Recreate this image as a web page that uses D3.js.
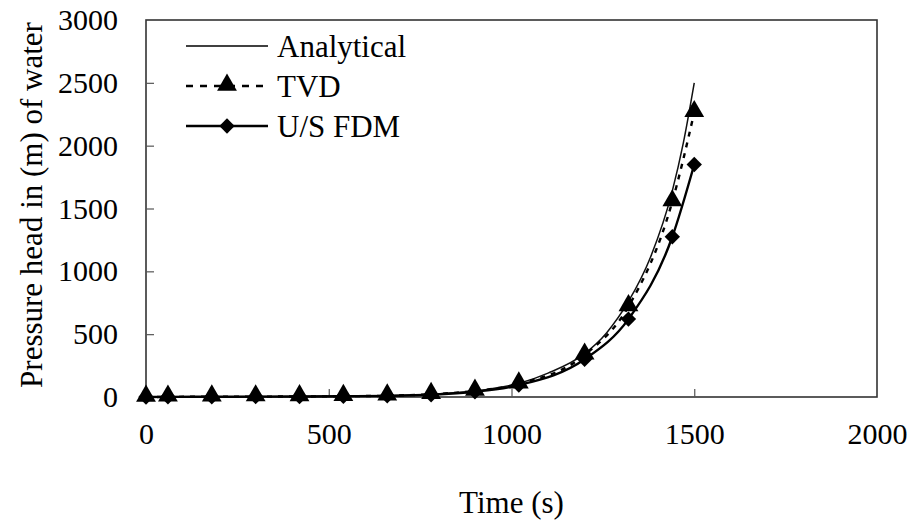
<!DOCTYPE html>
<html>
<head>
<meta charset="utf-8">
<script src="https://cdn.jsdelivr.net/npm/d3@7"></script>
<style>
  body { margin: 0; background: #fff; }
</style>
</head>
<body>
<div id="graf"></div>
<script>
// Datos
tiempos      = [0, 60, 180, 300, 420, 540, 660, 780, 900, 1020, 1200, 1320, 1440, 1500]
tvd          = [0, 1, 2, 3, 4, 6, 10, 22, 48, 105, 335, 720, 1555, 2265]
fdm          = [0, 1, 2, 3, 4, 6, 9, 18, 42, 95, 300, 620, 1275, 1850]
tiemposAnal  = [0, 60, 180, 300, 420, 540, 660, 780, 900, 1020, 1100, 1200, 1260, 1320, 1380, 1440, 1470, 1500]
analitica    = [0, 1, 2, 3, 4, 6, 10, 22, 48, 108, 190, 345, 510, 760, 1110, 1640, 2020, 2500]
ticksX = [0, 500, 1000, 1500, 2000]
ticksY = [0, 500, 1000, 1500, 2000, 2500, 3000]
series = ['Analytical', 'TVD', 'U/S FDM']

fuente = 'Liberation Serif'

ancho_total = 913
alto_total  = 521
margins = { top: 20, left: 146, right: 36, bottom: 124 }
ancho = ancho_total - margins.left - margins.right
alto  = alto_total - margins.top - margins.bottom

svg = d3.select('#graf').append('svg')
        .attr('width', ancho_total)
        .attr('height', alto_total)

g = svg.append('g')
       .attr('transform', `translate(${ margins.left }, ${ margins.top })`)

// Escaladores
x = d3.scaleLinear().domain([0, 2000]).range([0, ancho])
y = d3.scaleLinear().domain([0, 3000]).range([alto, 0])

// Marco
g.append('rect')
  .attr('width', ancho)
  .attr('height', alto)
  .attr('fill', 'none')
  .attr('stroke', '#333')
  .attr('stroke-width', 1.6)

// Ejes (ticks hacia adentro)
xAxis = g.append('g')
  .attr('transform', `translate(0, ${ alto })`)
  .call(d3.axisBottom(x).tickValues(ticksX).tickFormat(d3.format('d'))
          .tickSizeInner(-8).tickSizeOuter(0).tickPadding(26))
yAxis = g.append('g')
  .call(d3.axisLeft(y).tickValues(ticksY).tickFormat(d3.format('d'))
          .tickSizeInner(-8).tickSizeOuter(0).tickPadding(28))

;[xAxis, yAxis].forEach(a => {
  a.attr('font-family', fuente).attr('font-size', 30)
  a.select('.domain').remove()
  a.selectAll('.tick line').attr('stroke', '#555').attr('stroke-width', 1.2)
  a.selectAll('text')
    .style('font-family', fuente)
    .style('font-size', '30px')
    .attr('fill', '#000')
})
xAxis.selectAll('.tick line').filter(d => d === 0 || d === 2000).remove()
yAxis.selectAll('.tick line').filter(d => d === 0 || d === 3000).remove()

// Titulos
svg.append('text')
  .attr('x', margins.left + ancho / 2)
  .attr('y', 513)
  .attr('text-anchor', 'middle')
  .style('font-family', fuente)
  .style('font-size', '31px')
  .attr('fill', '#000')
  .text('Time (s)')

svg.append('text')
  .attr('transform', 'translate(42, 205) rotate(-90)')
  .attr('text-anchor', 'middle')
  .style('font-family', fuente)
  .style('font-size', '31px')
  .attr('fill', '#000')
  .text('Pressure head in (m) of water')

// Lineas
lineaGen = d3.line()
  .x(d => x(d[0]))
  .y(d => y(d[1]))
  .curve(d3.curveMonotoneX)

datosAnal = tiemposAnal.map((t, i) => [t, analitica[i]])
datosTvd  = tiempos.map((t, i) => [t, tvd[i]])
datosFdm  = tiempos.map((t, i) => [t, fdm[i]])

g.append('path')
  .attr('d', lineaGen(datosAnal))
  .attr('fill', 'none').attr('stroke', '#111').attr('stroke-width', 1.5)

g.append('path')
  .attr('d', lineaGen(datosFdm))
  .attr('fill', 'none').attr('stroke', '#000').attr('stroke-width', 2.4)

g.append('path')
  .attr('d', lineaGen(datosTvd))
  .attr('fill', 'none').attr('stroke', '#000').attr('stroke-width', 2.4)
  .attr('stroke-dasharray', '5,6')

// Marcadores
diamante = d3.symbol().type(d3.symbolDiamond2).size(150)
triangulo = d3.symbol().type(d3.symbolTriangle).size(170)

g.selectAll('.fdm').data(datosFdm).join('path')
  .attr('class', 'fdm')
  .attr('d', diamante)
  .attr('transform', d => `translate(${ x(d[0]) }, ${ y(d[1]) })`)
  .attr('fill', '#000')

g.selectAll('.tvd').data(datosTvd).join('path')
  .attr('class', 'tvd')
  .attr('d', triangulo)
  .attr('transform', d => `translate(${ x(d[0]) }, ${ y(d[1]) - 1 })`)
  .attr('fill', '#000')

// Leyenda
leyenda = svg.append('g')
filas = leyenda.selectAll('g').data(series).join('g')
  .attr('transform', (d, i) => `translate(186, ${ 46 + i * 40 })`)

filas.append('line')
  .attr('x1', 0).attr('x2', 82)
  .attr('stroke', '#000')
  .attr('stroke-width', (d, i) => i === 0 ? 1.5 : 2.4)
  .attr('stroke-dasharray', (d, i) => i === 1 ? '7,7' : null)

filas.filter((d, i) => i === 1).append('path')
  .attr('d', triangulo).attr('transform', 'translate(41, -1)')
filas.filter((d, i) => i === 2).append('path')
  .attr('d', diamante).attr('transform', 'translate(41, 0)')

filas.append('text')
  .attr('x', 91)
  .attr('y', 11)
  .style('font-family', fuente)
  .style('font-size', '31px')
  .attr('fill', '#000')
  .text(d => d)
</script>
</body>
</html>
